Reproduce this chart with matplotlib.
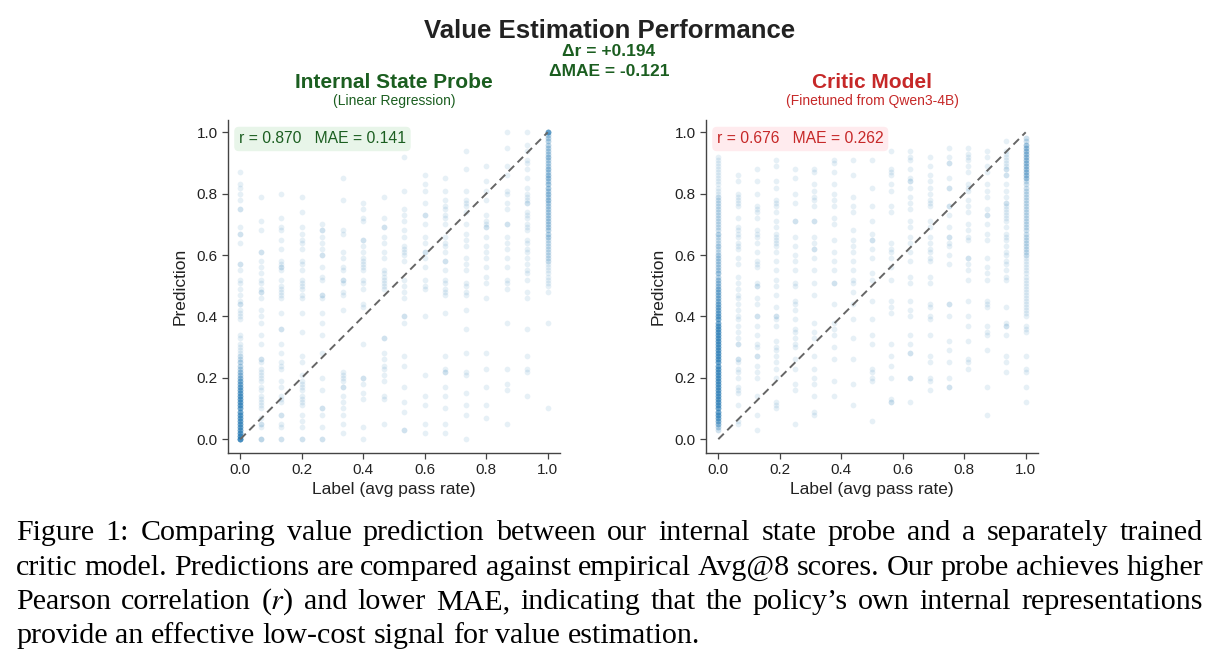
import matplotlib
matplotlib.use("Agg")
import matplotlib.pyplot as plt
import numpy as np

plt.rcParams["font.family"] = ["Liberation Sans", "DejaVu Sans"]
plt.rcParams["mathtext.fontset"] = "stix"

# ---------------- data ----------------
probe_labels = [0.0, 0.0667, 0.1333, 0.2, 0.2667, 0.3333, 0.4, 0.4667,
                0.5333, 0.6, 0.6667, 0.7333, 0.8, 0.8667, 0.9333, 1.0]
probe_preds = [
    [0.87, 0.83, 0.82, 0.80, 0.78, 0.75, 0.75, 0.69, 0.67, 0.67, 0.64, 0.57, 0.57, 0.55, 0.52, 0.51,
     0.49, 0.47, 0.45, 0.44, 0.44, 0.42, 0.41, 0.40, 0.39, 0.34, 0.33, 0.31, 0.30, 0.29, 0.28],
    [0.79, 0.71, 0.68, 0.61, 0.61, 0.58, 0.56, 0.54, 0.52, 0.51, 0.49, 0.48, 0.48, 0.46, 0.42, 0.40,
     0.38, 0.34, 0.31, 0.26, 0.26, 0.25, 0.23, 0.22, 0.21, 0.20, 0.19, 0.17, 0.16, 0.14, 0.13, 0.12,
     0.11, 0.10, 0.07, 0.05, 0.05, 0.04, 0.00, 0.00, 0.00],
    [0.80, 0.72, 0.69, 0.68, 0.65, 0.62, 0.58, 0.57, 0.56, 0.56, 0.55, 0.52, 0.50, 0.49, 0.48, 0.47,
     0.46, 0.41, 0.36, 0.36, 0.31, 0.28, 0.25, 0.24, 0.23, 0.19, 0.17, 0.14, 0.13, 0.12, 0.08, 0.08,
     0.05, 0.04, 0.00, 0.00],
    [0.79, 0.74, 0.69, 0.67, 0.65, 0.64, 0.62, 0.58, 0.57, 0.55, 0.52, 0.51, 0.50, 0.49, 0.47, 0.46,
     0.41, 0.35, 0.27, 0.25, 0.21, 0.19, 0.18, 0.17, 0.16, 0.14, 0.13, 0.12, 0.11, 0.08, 0.06, 0.04,
     0.00, 0.00],
    [0.70, 0.68, 0.68, 0.66, 0.64, 0.62, 0.60, 0.60, 0.56, 0.53, 0.52, 0.47, 0.47, 0.46, 0.41, 0.38,
     0.34, 0.28, 0.20, 0.16, 0.10, 0.10, 0.08, 0.04, 0.00, 0.00],
    [0.85, 0.78, 0.68, 0.67, 0.61, 0.59, 0.56, 0.55, 0.52, 0.52, 0.51, 0.48, 0.47, 0.42, 0.22, 0.21,
     0.20, 0.19, 0.17, 0.17, 0.14, 0.12, 0.10, 0.08, 0.05, 0.02],
    [0.77, 0.75, 0.72, 0.71, 0.65, 0.65, 0.63, 0.61, 0.59, 0.58, 0.57, 0.56, 0.55, 0.52, 0.51, 0.49,
     0.44, 0.43, 0.31, 0.20, 0.20, 0.18, 0.15, 0.13, 0.04, 0.00],
    [0.79, 0.72, 0.69, 0.69, 0.66, 0.64, 0.61, 0.59, 0.55, 0.54, 0.53, 0.52, 0.51, 0.50, 0.49, 0.33,
     0.33, 0.28, 0.26, 0.24, 0.23, 0.21, 0.19, 0.14, 0.13, 0.05],
    [0.92, 0.81, 0.75, 0.73, 0.71, 0.68, 0.66, 0.63, 0.62, 0.61, 0.60, 0.58, 0.52, 0.50, 0.48, 0.46,
     0.40, 0.40, 0.38, 0.27, 0.24, 0.17, 0.12, 0.09, 0.03, 0.03],
    [0.86, 0.83, 0.81, 0.77, 0.73, 0.73, 0.70, 0.66, 0.64, 0.61, 0.61, 0.59, 0.56, 0.52, 0.50, 0.49,
     0.40, 0.21, 0.14, 0.11, 0.05, 0.02],
    [0.85, 0.81, 0.78, 0.76, 0.75, 0.73, 0.72, 0.70, 0.66, 0.64, 0.63, 0.61, 0.58, 0.58, 0.55, 0.52,
     0.51, 0.49, 0.48, 0.47, 0.41, 0.27, 0.23, 0.22, 0.22, 0.17, 0.14, 0.10, 0.05, 0.02],
    [0.94, 0.88, 0.81, 0.78, 0.77, 0.76, 0.74, 0.70, 0.67, 0.65, 0.63, 0.59, 0.57, 0.55, 0.51, 0.50,
     0.48, 0.47, 0.42, 0.36, 0.28, 0.22, 0.21, 0.15, 0.11, 0.08, 0.00],
    [0.89, 0.84, 0.81, 0.78, 0.73, 0.71, 0.70, 0.69, 0.69, 0.66, 0.63, 0.61, 0.59, 0.56, 0.53, 0.51,
     0.46, 0.28, 0.23, 0.17, 0.11, 0.07],
    [1.00, 0.95, 0.89, 0.86, 0.81, 0.80, 0.77, 0.75, 0.70, 0.70, 0.66, 0.64, 0.62, 0.59, 0.56, 0.52,
     0.51, 0.49, 0.38, 0.23, 0.18, 0.16, 0.05],
    [1.00, 0.96, 0.94, 0.91, 0.90, 0.88, 0.85, 0.82, 0.80, 0.79, 0.78, 0.77, 0.77, 0.74, 0.73, 0.72,
     0.70, 0.69, 0.68, 0.65, 0.64, 0.62, 0.61, 0.59, 0.57, 0.55, 0.54, 0.52, 0.48, 0.46, 0.36, 0.27,
     0.23, 0.22, 0.14],
    [0.48, 0.38, 0.10],
]
# densely packed predictions: value and number of samples
probe_zero_y = [0.27, 0.26, 0.25, 0.24, 0.23, 0.22, 0.21, 0.20, 0.19, 0.18, 0.17, 0.16, 0.15, 0.14,
                0.13, 0.12, 0.11, 0.10, 0.09, 0.08, 0.07, 0.06, 0.05, 0.04, 0.03, 0.02, 0.01, 0.00]
probe_zero_n = [2, 2, 3, 3, 3, 4, 4, 5, 6, 6, 7, 7, 7, 8,
                8, 8, 8, 8, 8, 8, 8, 8, 8, 8, 8, 9, 10, 14]
probe_one_y = [1.00, 0.99, 0.98, 0.97, 0.96, 0.95, 0.94, 0.93, 0.92, 0.91,
               0.90, 0.89, 0.88, 0.87, 0.86, 0.85, 0.84, 0.83, 0.82, 0.81,
               0.80, 0.79, 0.78, 0.77, 0.76, 0.75, 0.74, 0.73, 0.72, 0.71,
               0.70, 0.69, 0.68, 0.67, 0.66, 0.65, 0.64, 0.63, 0.62, 0.61,
               0.60, 0.59, 0.58, 0.57, 0.56, 0.55, 0.54, 0.53, 0.52, 0.51,
               0.50]
probe_one_n = [10, 3, 3, 3, 3, 3, 3, 3, 4, 3,
               3, 3, 4, 3, 4, 4, 3, 4, 4, 3,
               4, 3, 4, 3, 3, 3, 3, 3, 3, 3,
               3, 3, 3, 3, 3, 2, 2, 2, 2, 2,
               2, 2, 2, 1, 1, 1, 1, 1, 1, 1,
               1]

critic_labels = [0.0, 0.0625, 0.125, 0.1875, 0.25, 0.3125, 0.375, 0.4375, 0.5,
                 0.5625, 0.625, 0.6875, 0.75, 0.8125, 0.875, 0.9375, 1.0]
critic_preds = [
    [],
    [0.86, 0.84, 0.80, 0.79, 0.78, 0.77, 0.76, 0.72, 0.69, 0.68, 0.67, 0.66, 0.64, 0.63, 0.62, 0.59,
     0.57, 0.53, 0.51, 0.49, 0.47, 0.46, 0.44, 0.42, 0.40, 0.39, 0.37, 0.35, 0.33, 0.31, 0.31, 0.26,
     0.26, 0.25, 0.23, 0.22, 0.20, 0.17, 0.16, 0.15, 0.11, 0.06, 0.05],
    [0.88, 0.84, 0.80, 0.76, 0.75, 0.74, 0.72, 0.68, 0.67, 0.66, 0.64, 0.61, 0.58, 0.57, 0.56, 0.51,
     0.50, 0.50, 0.46, 0.44, 0.40, 0.40, 0.37, 0.34, 0.31, 0.30, 0.27, 0.27, 0.24, 0.22, 0.20, 0.14,
     0.08, 0.03],
    [0.91, 0.89, 0.84, 0.82, 0.78, 0.77, 0.76, 0.74, 0.71, 0.69, 0.67, 0.66, 0.65, 0.64, 0.63, 0.61,
     0.58, 0.55, 0.52, 0.50, 0.47, 0.43, 0.40, 0.40, 0.39, 0.37, 0.32, 0.30, 0.29, 0.27, 0.25, 0.23,
     0.20, 0.12, 0.11, 0.10],
    [0.88, 0.85, 0.80, 0.77, 0.71, 0.71, 0.66, 0.63, 0.60, 0.58, 0.55, 0.51, 0.50, 0.45, 0.44, 0.42,
     0.39, 0.36, 0.35, 0.33, 0.31, 0.30, 0.26, 0.23, 0.18, 0.16, 0.05],
    [0.88, 0.87, 0.83, 0.81, 0.79, 0.78, 0.76, 0.71, 0.71, 0.66, 0.64, 0.62, 0.62, 0.59, 0.55, 0.51,
     0.47, 0.38, 0.35, 0.33, 0.27, 0.23, 0.20, 0.18, 0.14, 0.09, 0.08],
    [0.91, 0.90, 0.87, 0.83, 0.80, 0.78, 0.76, 0.72, 0.70, 0.65, 0.61, 0.58, 0.55, 0.51, 0.51, 0.44,
     0.38, 0.36, 0.34, 0.30, 0.26, 0.19, 0.14],
    [0.91, 0.86, 0.79, 0.76, 0.74, 0.68, 0.65, 0.63, 0.61, 0.58, 0.55, 0.52, 0.51, 0.48, 0.44, 0.39,
     0.33, 0.26, 0.18, 0.11],
    [0.91, 0.82, 0.76, 0.71, 0.67, 0.65, 0.65, 0.62, 0.59, 0.54, 0.52, 0.45, 0.39, 0.34, 0.31, 0.23,
     0.22, 0.20, 0.19, 0.06],
    [0.94, 0.88, 0.87, 0.86, 0.83, 0.81, 0.76, 0.74, 0.64, 0.62, 0.61, 0.59, 0.56, 0.52, 0.45, 0.43,
     0.41, 0.31, 0.27, 0.24, 0.20, 0.13, 0.12, 0.12],
    [0.94, 0.92, 0.91, 0.88, 0.85, 0.84, 0.84, 0.82, 0.79, 0.77, 0.75, 0.71, 0.69, 0.66, 0.64, 0.61,
     0.58, 0.53, 0.51, 0.45, 0.42, 0.40, 0.34, 0.31, 0.28, 0.28, 0.20, 0.20, 0.12],
    [0.92, 0.89, 0.86, 0.84, 0.82, 0.80, 0.78, 0.77, 0.76, 0.71, 0.69, 0.66, 0.64, 0.62, 0.61, 0.59,
     0.58, 0.53, 0.51, 0.44, 0.43, 0.40, 0.39, 0.34, 0.27, 0.25, 0.20, 0.19, 0.16],
    [0.95, 0.92, 0.90, 0.90, 0.85, 0.82, 0.82, 0.76, 0.76, 0.73, 0.69, 0.66, 0.66, 0.64, 0.63, 0.60,
     0.57, 0.44, 0.44, 0.40, 0.32, 0.29, 0.25, 0.20, 0.17, 0.17],
    [0.95, 0.93, 0.92, 0.91, 0.89, 0.87, 0.83, 0.82, 0.81, 0.78, 0.76, 0.74, 0.70, 0.68, 0.66, 0.65,
     0.59, 0.59, 0.57, 0.55, 0.52, 0.45, 0.40, 0.37, 0.32, 0.26, 0.25, 0.23],
    [0.94, 0.92, 0.89, 0.87, 0.83, 0.81, 0.79, 0.75, 0.73, 0.73, 0.70, 0.67, 0.65, 0.59, 0.56, 0.54,
     0.52, 0.45, 0.44, 0.43, 0.37, 0.35, 0.34, 0.29, 0.17, 0.08],
    [0.97, 0.94, 0.93, 0.92, 0.91, 0.90, 0.89, 0.88, 0.88, 0.86, 0.86, 0.83, 0.81, 0.79, 0.77, 0.77,
     0.76, 0.75, 0.74, 0.73, 0.72, 0.71, 0.69, 0.67, 0.66, 0.65, 0.63, 0.61, 0.60, 0.58, 0.57, 0.55,
     0.53, 0.52, 0.43, 0.38, 0.37, 0.37, 0.34, 0.27, 0.25, 0.22],
    [0.37, 0.36, 0.35, 0.27, 0.23, 0.22, 0.17, 0.12],
]
critic_zero_y = [0.92, 0.91, 0.90, 0.89, 0.88, 0.87, 0.86, 0.85, 0.84, 0.83,
                 0.82, 0.81, 0.80, 0.79, 0.78, 0.77, 0.76, 0.75, 0.74, 0.73,
                 0.72, 0.71, 0.70, 0.69, 0.68, 0.67, 0.66, 0.65, 0.64, 0.63,
                 0.62, 0.61, 0.60, 0.59, 0.58, 0.57, 0.56, 0.55, 0.54, 0.53,
                 0.52, 0.51, 0.50, 0.49, 0.48, 0.47, 0.46, 0.45, 0.44, 0.43,
                 0.42, 0.41, 0.40, 0.39, 0.38, 0.37, 0.36, 0.35, 0.34, 0.33,
                 0.32, 0.31, 0.30, 0.29, 0.28, 0.27, 0.26, 0.25, 0.24, 0.23,
                 0.22, 0.21, 0.20, 0.19, 0.18, 0.17, 0.16, 0.15, 0.14, 0.13,
                 0.12, 0.11, 0.10, 0.09, 0.08, 0.07, 0.06, 0.05, 0.04, 0.03]
critic_zero_n = [1, 1, 1, 1, 1, 1, 1, 1, 1, 1,
                 1, 1, 1, 2, 2, 2, 2, 2, 2, 2,
                 2, 2, 2, 2, 2, 3, 2, 2, 2, 3,
                 2, 2, 3, 3, 3, 3, 3, 3, 4, 3,
                 4, 4, 4, 5, 5, 5, 5, 5, 6, 6,
                 6, 6, 7, 7, 7, 8, 8, 8, 8, 8,
                 8, 8, 8, 8, 8, 8, 8, 8, 8, 8,
                 8, 8, 8, 8, 8, 8, 8, 8, 8, 8,
                 8, 8, 8, 8, 8, 7, 6, 5, 3, 2]
critic_one_y = [0.98, 0.97, 0.96, 0.95, 0.94, 0.93, 0.92, 0.91, 0.90, 0.89,
                0.88, 0.87, 0.86, 0.85, 0.84, 0.83, 0.82, 0.81, 0.80, 0.79,
                0.78, 0.77, 0.76, 0.75, 0.74, 0.73, 0.72, 0.71, 0.70, 0.69,
                0.68, 0.67, 0.66, 0.65, 0.64, 0.63, 0.62, 0.61, 0.60, 0.59,
                0.58, 0.57, 0.56, 0.55, 0.54, 0.53, 0.52, 0.51, 0.50, 0.49,
                0.48, 0.47, 0.46, 0.45, 0.44, 0.43, 0.42, 0.41, 0.40]
critic_one_n = [2, 2, 4, 4, 4, 4, 4, 4, 4, 4,
                4, 4, 4, 4, 2, 2, 2, 2, 2, 2,
                2, 2, 2, 2, 2, 2, 2, 2, 2, 2,
                2, 2, 2, 2, 2, 2, 2, 2, 2, 1,
                1, 1, 1, 1, 1, 1, 1, 1, 1, 1,
                1, 1, 1, 1, 1, 1, 1, 1, 1]

tick_values = [0.0, 0.2, 0.4, 0.6, 0.8, 1.0]
tick_labels = ["0.0", "0.2", "0.4", "0.6", "0.8", "1.0"]

panels = [
    dict(title="Internal State Probe", sub="(Linear Regression)", color="#1b5e20",
         box="#e8f5e9", stats="r = 0.870   MAE = 0.141"),
    dict(title="Critic Model", sub="(Finetuned from Qwen3-4B)", color="#c62828",
         box="#ffebee", stats="r = 0.676   MAE = 0.262"),
]
delta_lines = ["\u0394r = +0.194", "\u0394MAE = -0.121"]
main_title = "Value Estimation Performance"
caption_lines = [
    "Figure 1: Comparing value prediction between our internal state probe and a separately trained",
    "critic model. Predictions are compared against empirical Avg@8 scores. Our probe achieves higher",
    "Pearson correlation ($r$) and lower MAE, indicating that the policy\u2019s own internal representations",
    "provide an effective low-cost signal for value estimation.",
]


def collect(labels, preds, dense):
    xs, ys = [], []
    for lab, col in zip(labels, preds):
        xs += [lab] * len(col)
        ys += list(col)
    for lab, vals, counts in dense:
        rep = np.repeat(vals, counts)
        xs += [lab] * len(rep)
        ys += list(rep)
    return np.array(xs), np.array(ys)


probe_x, probe_y = collect(probe_labels, probe_preds,
                           [(0.0, probe_zero_y, probe_zero_n), (1.0, probe_one_y, probe_one_n)])
critic_x, critic_y = collect(critic_labels, critic_preds,
                             [(0.0, critic_zero_y, critic_zero_n), (1.0, critic_one_y, critic_one_n)])

# ---------------- figure ----------------
W, H = 1219, 663
fig = plt.figure(figsize=(W / 100, H / 100), dpi=100)

axes_px = [(228, 560), (706, 1038)]
top_px, bot_px = 120, 453
data = [(probe_x, probe_y), (critic_x, critic_y)]

for (l, r), (xs, ys), p in zip(axes_px, data, panels):
    ax = fig.add_axes([l / W, 1 - bot_px / H, (r - l) / W, (bot_px - top_px) / H])
    ax.scatter(xs, ys, s=17, color="#1f77b4", alpha=0.11, linewidths=0, zorder=2)
    ax.plot([0, 1], [0, 1], ls=(0, (4, 2.5)), color="#666666", lw=1.4, zorder=3)
    ax.set_xlim(-0.04, 1.04)
    ax.set_ylim(-0.045, 1.04)
    ax.set_xticks(tick_values)
    ax.set_xticklabels(tick_labels)
    ax.set_yticks(tick_values)
    ax.set_yticklabels(tick_labels)
    for side in ["top", "right"]:
        ax.spines[side].set_visible(False)
    for side in ["left", "bottom"]:
        ax.spines[side].set_color("#444444")
        ax.spines[side].set_linewidth(1.0)
    ax.tick_params(labelsize=11, length=4, width=0.9, colors="#444444", labelcolor="#222222")
    ax.set_xlabel("Label (avg pass rate)", fontsize=12.5, color="#222222", labelpad=3)
    ax.set_ylabel("Prediction", fontsize=12.5, color="#222222", labelpad=6)
    ax.text(0.033, 0.943, p["stats"], transform=ax.transAxes, ha="left", va="center",
            fontsize=11.3, color=p["color"], zorder=5,
            bbox=dict(boxstyle="round,pad=0.3", fc=p["box"], ec="none"))
    cx = (l + r) / 2 / W
    fig.text(cx, 1 - 83 / H, p["title"], ha="center", va="center", fontsize=15,
             fontweight="bold", color=p["color"])
    fig.text(cx, 1 - 101 / H, p["sub"], ha="center", va="center", fontsize=10, color=p["color"])

fig.text(0.5, 1 - 31 / H, main_title, ha="center", va="center", fontsize=18.5,
         fontweight="bold", color="#222222")
fig.text(0.4996, 1 - 52 / H, delta_lines[0], ha="center", va="center", fontsize=12.5,
         fontweight="bold", color="#1b5e20")
fig.text(0.4996, 1 - 71 / H, delta_lines[1], ha="center", va="center", fontsize=12.5,
         fontweight="bold", color="#1b5e20")

# ---------------- caption (justified) ----------------
renderer = fig.canvas.get_renderer()
serif = dict(family=["Liberation Serif", "DejaVu Serif"], color="black")


def width_of(s, size):
    t = fig.text(0, 0, s, fontsize=size, **serif)
    w = t.get_window_extent(renderer).width
    t.remove()
    return w


cap_left, cap_right = 16, 1203
ref = width_of(caption_lines[3], 10)
cap_size = 10 * 683 / ref
baselines = [540, 575, 609, 643]
space_w = width_of("a b", cap_size) - width_of("ab", cap_size)
for i, (line, base) in enumerate(zip(caption_lines, baselines)):
    words = line.split(" ")
    widths = [width_of(wd, cap_size) for wd in words]
    if i < len(caption_lines) - 1:
        gap = (cap_right - cap_left - sum(widths)) / (len(words) - 1)
    else:
        gap = space_w
    x = cap_left
    for wd, wdt in zip(words, widths):
        fig.text(x / W, 1 - base / H, wd, fontsize=cap_size, ha="left", va="baseline", **serif)
        x += wdt + gap

fig.savefig("out.png", dpi=100)
